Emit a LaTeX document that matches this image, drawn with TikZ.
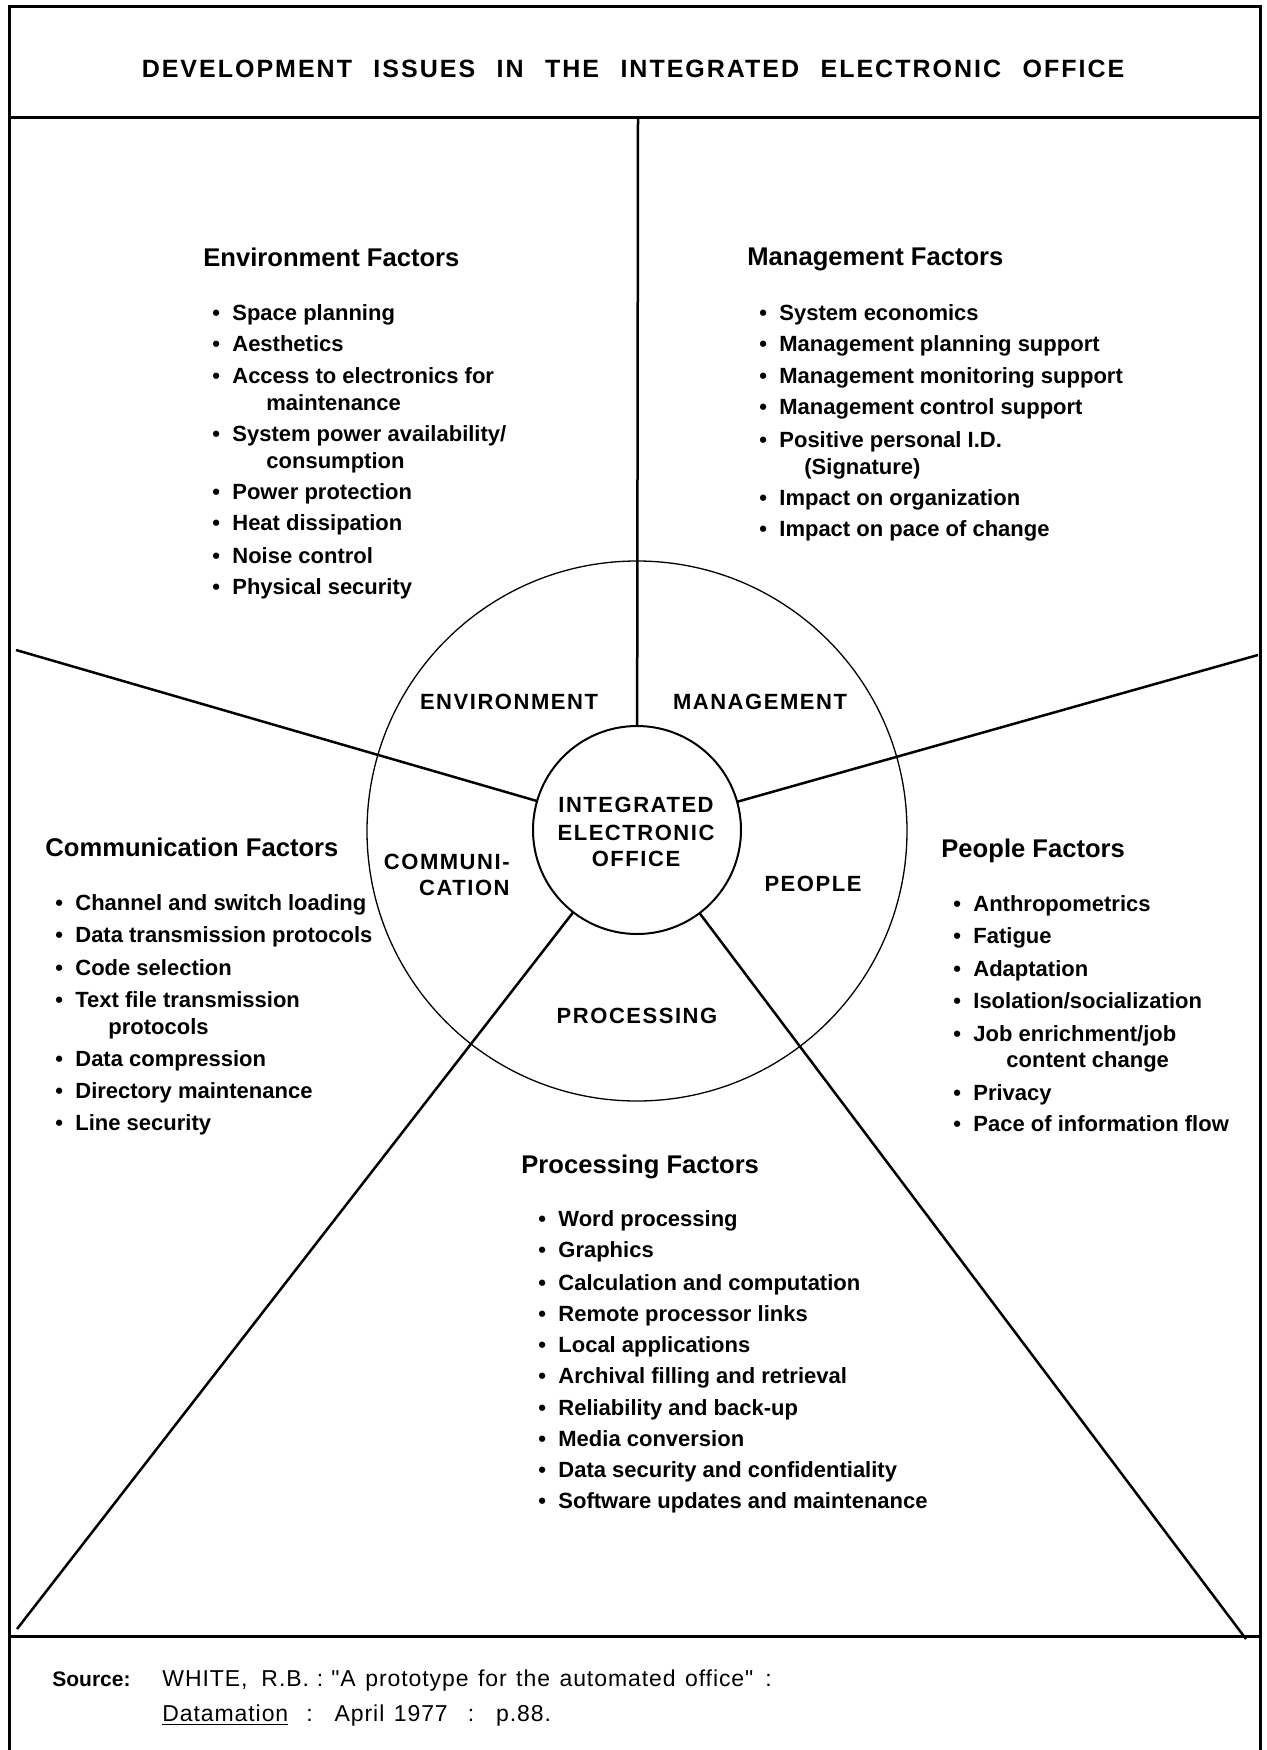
\documentclass[tikz,border=0pt]{standalone}
\usepackage{fontspec}
\setmainfont{Liberation Sans}
\newfontfamily\spacedfont[LetterSpace=7]{Liberation Sans}
\newfontfamily\titlefont[LetterSpace=8]{Liberation Sans}
\newfontfamily\srcfont[LetterSpace=4,WordSpace=1.3]{Liberation Sans}
\newcommand{\bul}{\makebox[10pt][l]{\textbullet}}
\begin{document}
\begin{tikzpicture}[x=0.5pt,y=-0.5pt,
  frame/.style={line width=1.5pt},
  spoke/.style={line width=1.25pt},
  hd/.style={anchor=base west, inner sep=0pt, font=\fontsize{12.8}{15}\selectfont\bfseries},
  itm/.style={anchor=base west, inner sep=0pt, font=\fontsize{11}{13}\selectfont\bfseries},
  sec/.style={anchor=base, inner sep=0pt, font=\spacedfont\fontsize{11}{13}\selectfont\bfseries},
  src/.style={anchor=base west, inner sep=0pt, font=\srcfont\fontsize{11.5}{13}\selectfont},
]
\useasboundingbox (0,0) rectangle (1266,1750);
% frame
\draw[frame] (9,1750) -- (9,7) -- (1260,7) -- (1260,1750);
\draw[frame] (9,118) -- (1260,118);
\draw[frame] (9,1636) -- (1260,1636);
\node[anchor=base, inner sep=0pt, font=\titlefont\fontsize{12.5}{15}\selectfont\bfseries] (title) at (633,78)
  {DEVELOPMENT\hspace{0.5em} ISSUES\hspace{0.5em} IN\hspace{0.5em} THE\hspace{0.5em} INTEGRATED\hspace{0.5em} ELECTRONIC\hspace{0.5em} OFFICE};
% circles
\node[circle, draw, line width=0.65pt, minimum size=270pt, inner sep=0pt, outer sep=0pt] (outer) at (637,831) {};
\node[circle, draw, line width=1pt, minimum size=104pt, inner sep=0pt, outer sep=0pt] (inner) at (637,830) {};
% spokes
\coordinate (ctop) at (638,118);
\coordinate (cul) at (16,650);
\coordinate (cur) at (1258,655);
\coordinate (cll) at (17,1629);
\coordinate (clr) at (1246,1639);
\draw[spoke] (ctop) -- (inner);
\draw[spoke] (cul) -- (inner);
\draw[spoke] (cur) -- (inner);
\draw[spoke] (cll) -- (inner);
\draw[spoke] (clr) -- (inner);
% sector labels
\node[sec] (lenv) at (509,709) {ENVIRONMENT};
\node[sec] (lman) at (760,709) {MANAGEMENT};
\node[sec, anchor=base east] (lcom1) at (510,869) {COMMUNI-};
\node[sec, anchor=base east] (lcom2) at (510,895) {CATION};
\node[sec] (lpeo) at (813,891) {PEOPLE};
\node[sec] (lpro) at (637,1023) {PROCESSING};
\node[sec] (c1) at (636,812) {INTEGRATED};
\node[sec] (c2) at (636,840) {ELECTRONIC};
\node[sec] (c3) at (636,866) {OFFICE};
% Environment
\node[hd] (henv) at (203,266) {Environment Factors};
\node[itm] (e1) at (212,320) {\bul Space planning};
\node[itm] (e2) at (212,351) {\bul Aesthetics};
\node[itm] (e3) at (212,383) {\bul Access to electronics for};
\node[itm] (e3b) at (266,410) {maintenance};
\node[itm] (e4) at (212,441) {\bul System power availability/};
\node[itm] (e4b) at (266,468) {consumption};
\node[itm] (e5) at (212,499) {\bul Power protection};
\node[itm] (e6) at (212,530) {\bul Heat dissipation};
\node[itm] (e7) at (212,563) {\bul Noise control};
\node[itm] (e8) at (212,594) {\bul Physical security};
% Management
\node[hd] (hman) at (747,265) {Management Factors};
\node[itm] (m1) at (759,320) {\bul System economics};
\node[itm] (m2) at (759,351) {\bul Management planning support};
\node[itm] (m3) at (759,383) {\bul Management monitoring support};
\node[itm] (m4) at (759,414) {\bul Management control support};
\node[itm] (m5) at (759,447) {\bul Positive personal I.D.};
\node[itm] (m5b) at (804,474) {(Signature)};
\node[itm] (m6) at (759,505) {\bul Impact on organization};
\node[itm] (m7) at (759,536) {\bul Impact on pace of change};
% Communication
\node[hd] (hcom) at (45,856) {Communication Factors};
\node[itm] (k1) at (55,910) {\bul Channel and switch loading};
\node[itm] (k2) at (55,942) {\bul Data transmission protocols};
\node[itm] (k3) at (55,975) {\bul Code selection};
\node[itm] (k4) at (55,1007) {\bul Text file transmission};
\node[itm] (k4b) at (108,1034) {protocols};
\node[itm] (k5) at (55,1066) {\bul Data compression};
\node[itm] (k6) at (55,1098) {\bul Directory maintenance};
\node[itm] (k7) at (55,1130) {\bul Line security};
% People
\node[hd] (hpeo) at (941,857) {People Factors};
\node[itm] (p1) at (953,911) {\bul Anthropometrics};
\node[itm] (p2) at (953,943) {\bul Fatigue};
\node[itm] (p3) at (953,976) {\bul Adaptation};
\node[itm] (p4) at (953,1008) {\bul Isolation/socialization};
\node[itm] (p5) at (953,1041) {\bul Job enrichment/job};
\node[itm] (p5b) at (1006,1067) {content change};
\node[itm] (p6) at (953,1100) {\bul Privacy};
\node[itm] (p7) at (953,1131) {\bul Pace of information flow};
% Processing
\node[hd] (hpro) at (521,1173) {Processing Factors};
\node[itm] (r1) at (538,1226) {\bul Word processing};
\node[itm] (r2) at (538,1257) {\bul Graphics};
\node[itm] (r3) at (538,1290) {\bul Calculation and computation};
\node[itm] (r4) at (538,1321) {\bul Remote processor links};
\node[itm] (r5) at (538,1352) {\bul Local applications};
\node[itm] (r6) at (538,1383) {\bul Archival filling and retrieval};
\node[itm] (r7) at (538,1415) {\bul Reliability and back-up};
\node[itm] (r8) at (538,1446) {\bul Media conversion};
\node[itm] (r9) at (538,1477) {\bul Data security and confidentiality};
\node[itm] (r10) at (538,1508) {\bul Software updates and maintenance};
% Source
\node[anchor=base west, inner sep=0pt, font=\fontsize{10.5}{13}\selectfont\bfseries] (s0) at (52,1686) {Source:};
\node[src] (s1) at (162,1686) {WHITE,\hspace{7pt}R.B.\hspace{4pt}:\hspace{4pt}"A prototype for the automated office"\hspace{6pt}:};
\node[src] (s2) at (162,1721) {\underline{Datamation}\hspace{9pt}:\hspace{11pt}April 1977\hspace{10pt}:\hspace{11pt}p.88.};
\end{tikzpicture}
\end{document}
